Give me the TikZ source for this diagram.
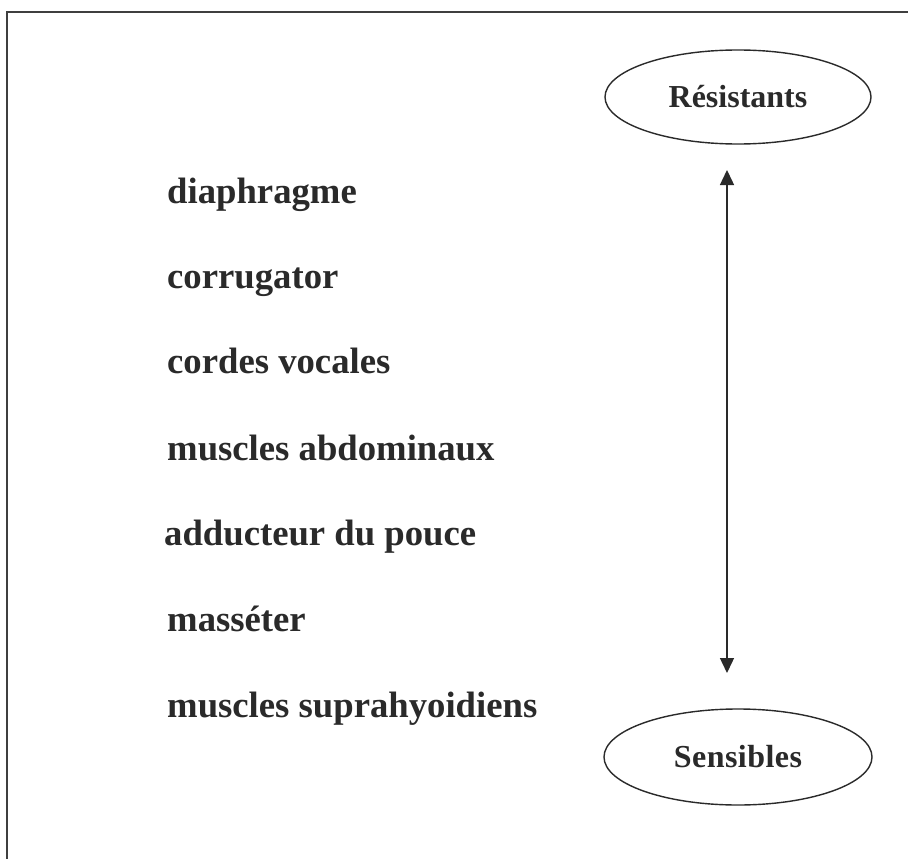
\documentclass[tikz,border=0pt]{standalone}
\usepackage{fontspec}
\setmainfont{Liberation Serif}
\usetikzlibrary{arrows.meta,shapes.geometric}
\definecolor{ink}{HTML}{2A2A2A}
\tikzset{
  item/.style={anchor=base west, inner sep=0pt, text=ink, font=\fontsize{36.7}{40}\selectfont\bfseries},
  pole/.style={draw=ink, line width=1.4pt, ellipse, inner sep=0pt, text=ink,
    font=\fontsize{32}{36}\selectfont\bfseries},
  frame/.style={draw=ink!90, line width=2.2pt},
  link/.style={draw=ink, line width=1.4pt, {Triangle[length=15pt,width=14pt]}-{Triangle[length=15pt,width=14pt]}}
}
\begin{document}
\begin{tikzpicture}[x=1pt,y=-1pt]
\useasboundingbox (0,0) rectangle (908,859);
\fill[white] (0,0) rectangle (908,859);
\coordinate (fb) at (7,859);
\coordinate (fc) at (7,12);
\coordinate (fr) at (908,12);
\draw[frame] (fb) -- (fc) -- (fr);
\node[pole, minimum width=266pt, minimum height=94pt] (res) at (738,97) {Résistants};
\node[pole, minimum width=268pt, minimum height=96pt] (sen) at (738,757) {\addfontfeature{LetterSpace=1.5}Sensibles};
\coordinate (atop) at (727,170);
\coordinate (abot) at (727,673);
\draw[link] (atop) -- (abot);
\node[item] (t1) at (167,203) {diaphragme};
\node[item] (t2) at (167,288) {corrugator};
\node[item] (t3) at (167,373) {cordes vocales};
\node[item] (t4) at (167,460) {muscles abdominaux};
\node[item] (t5) at (164,545) {adducteur du pouce};
\node[item] (t6) at (167,631) {masséter};
\node[item] (t7) at (167,717) {muscles suprahyoidiens};
\end{tikzpicture}
\end{document}
